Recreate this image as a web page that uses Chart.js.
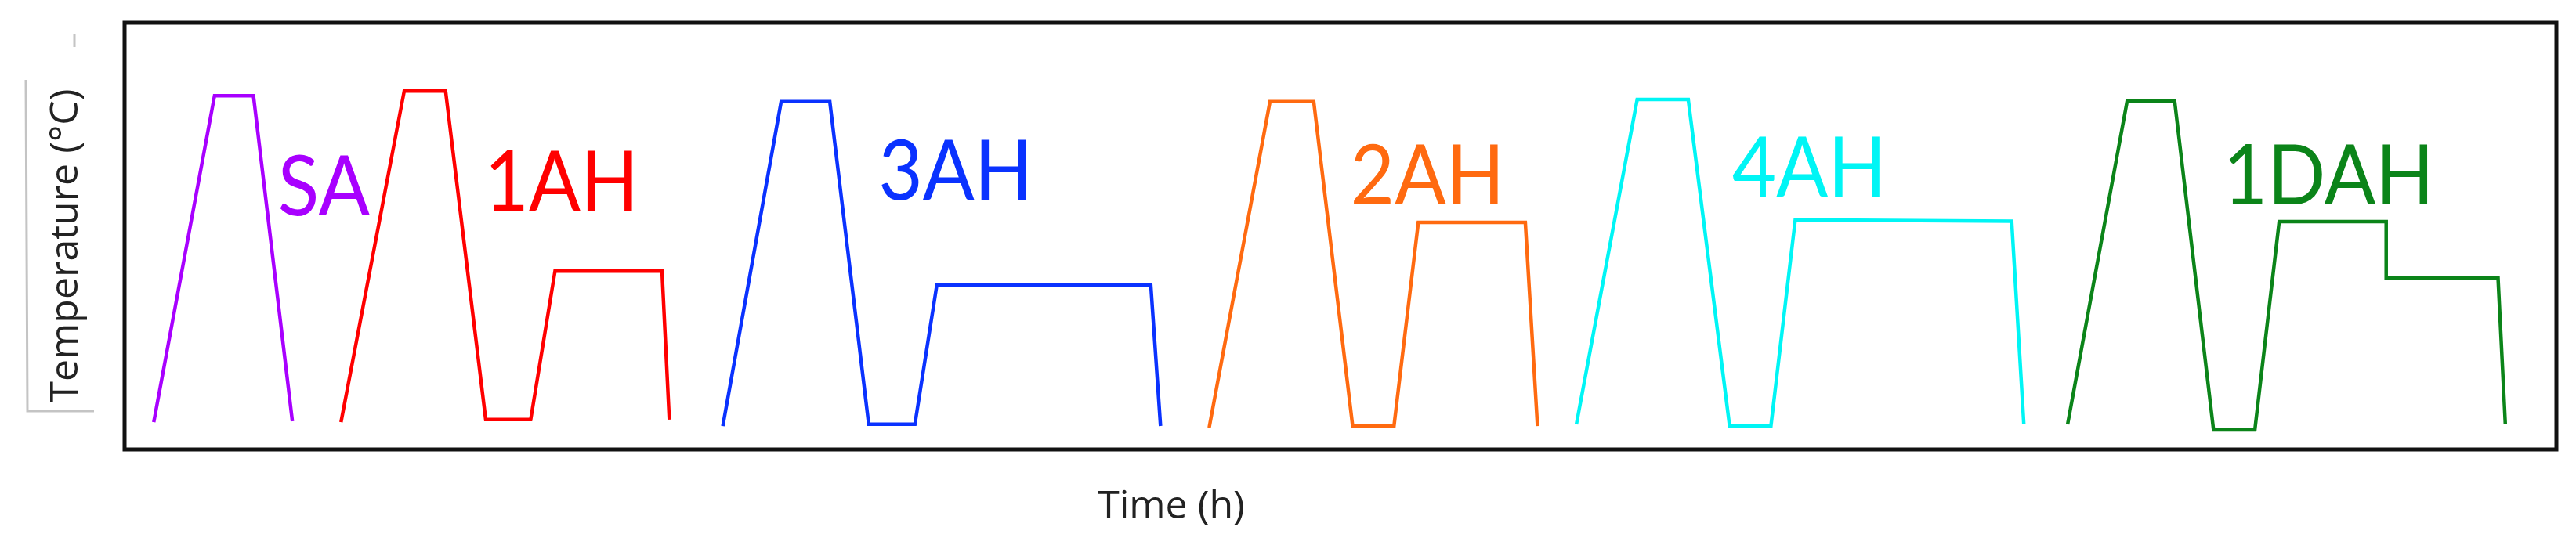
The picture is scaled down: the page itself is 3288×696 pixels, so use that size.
<!DOCTYPE html>
<html>
<head>
<meta charset="utf-8">
<title>Heat treatment schedules</title>
<script src="https://cdn.jsdelivr.net/npm/chart.js@4.4.1/dist/chart.umd.min.js"></script>
<style>
    html, body { margin: 0; padding: 0; background: #fff; }
    #chartBox { width: 3288px; height: 696px; }
</style>
</head>
<body>
<div id="chartBox"><canvas id="treatChart" width="3288" height="696"></canvas></div>
<script>
// time / temperature (arbitrary units, 0-100 on both axes)
const seriesNames = ['SA', '1AH', '3AH', '2AH', '4AH', '1DAH'];

const saTime = [1.2, 3.7, 5.3, 6.9];
const saTemp = [6.4, 82.9, 82.9, 6.6];

const ah1Time = [8.9, 11.5, 13.2, 14.85, 16.7, 17.7, 22.1, 22.4];
const ah1Temp = [6.4, 84.0, 84.0, 7.0, 7.0, 41.8, 41.8, 7.0];

const ah3Time = [24.6, 27.0, 29.0, 30.6, 32.5, 33.4, 42.2, 42.6];
const ah3Temp = [5.5, 81.5, 81.5, 5.9, 5.9, 38.5, 38.5, 5.5];

const ah2Time = [44.6, 47.1, 48.9, 50.5, 52.2, 53.2, 57.6, 58.1];
const ah2Temp = [5.1, 81.5, 81.5, 5.5, 5.5, 53.2, 53.2, 5.5];

const ah4Time = [59.7, 62.2, 64.3, 66.0, 67.7, 68.7, 77.6, 78.1];
const ah4Temp = [5.9, 82.0, 82.0, 5.5, 5.5, 53.8, 53.5, 5.9];

const dah1Time = [79.9, 82.35, 84.3, 85.9, 87.6, 88.6, 93.0, 93.0, 97.6, 97.9];
const dah1Temp = [5.9, 81.7, 81.7, 4.6, 4.6, 53.4, 53.4, 40.2, 40.2, 5.9];

const seriesTime = [saTime, ah1Time, ah3Time, ah2Time, ah4Time, dah1Time];
const seriesTemp = [saTemp, ah1Temp, ah3Temp, ah2Temp, ah4Temp, dah1Temp];
const seriesColors = ['#a800ff', '#ff0000', '#0a32ff', '#ff6a10', '#00f5f5', '#0b8419'];

// where each name sits, in data units (left edge, baseline)
const labelAt = [[6.3, 54.9], [14.8, 56.0], [31.0, 58.5], [50.4, 57.4], [66.1, 59.3], [86.3, 57.4]];

const datasets = seriesNames.map((name, i) => ({
    label: name,
    data: seriesTime[i].map((t, j) => ({ x: t, y: seriesTemp[i][j] })),
    borderColor: seriesColors[i],
    borderWidth: 4.5,
    borderJoinStyle: 'miter',
    pointRadius: 0,
    tension: 0,
    fill: false
}));

const decorations = {
    id: 'decorations',
    afterDatasetsDraw(chart) {
        const { ctx, chartArea, scales } = chart;
        ctx.save();

        // black frame round the plot
        ctx.strokeStyle = '#111';
        ctx.lineWidth = 5;
        ctx.strokeRect(chartArea.left, chartArea.top, chartArea.right - chartArea.left, chartArea.bottom - chartArea.top);

        // series names (a bit narrower than Lato, like the original)
        ctx.textAlign = 'left';
        ctx.textBaseline = 'alphabetic';
        ctx.font = '106px Lato';
        seriesNames.forEach((name, i) => {
            ctx.save();
            ctx.translate(scales.x.getPixelForValue(labelAt[i][0]), scales.y.getPixelForValue(labelAt[i][1]));
            ctx.scale(0.92, 1);
            ctx.fillStyle = seriesColors[i];
            ctx.fillText(name, 0, 0);
            ctx.restore();
        });

        // axis titles
        ctx.fillStyle = '#222';
        ctx.font = '50px "Open Sans"';
        ctx.textAlign = 'center';
        ctx.fillText('Time (h)', 1495, 662);

        ctx.save();
        ctx.translate(99, 314);
        ctx.rotate(-Math.PI / 2);
        ctx.fillText('Temperature (°C)', 0, 0);
        ctx.restore();

        // faint box left round the y title
        ctx.strokeStyle = '#c4c4c4';
        ctx.lineWidth = 3;
        ctx.beginPath();
        ctx.moveTo(33, 102);
        ctx.lineTo(35, 525);
        ctx.lineTo(120, 525);
        ctx.moveTo(95, 44);
        ctx.lineTo(95, 60);
        ctx.stroke();

        ctx.restore();
    }
};

new Chart(document.getElementById('treatChart'), {
    type: 'line',
    data: { datasets },
    options: {
        responsive: false,
        devicePixelRatio: 1,
        animation: false,
        layout: { padding: { left: 159, right: 25, top: 29, bottom: 122 } },
        scales: {
            x: { type: 'linear', min: 0, max: 100, display: false },
            y: { type: 'linear', min: 0, max: 100, display: false }
        },
        plugins: {
            legend: { display: false },
            tooltip: { enabled: false }
        }
    },
    plugins: [decorations]
});
</script>
</body>
</html>
